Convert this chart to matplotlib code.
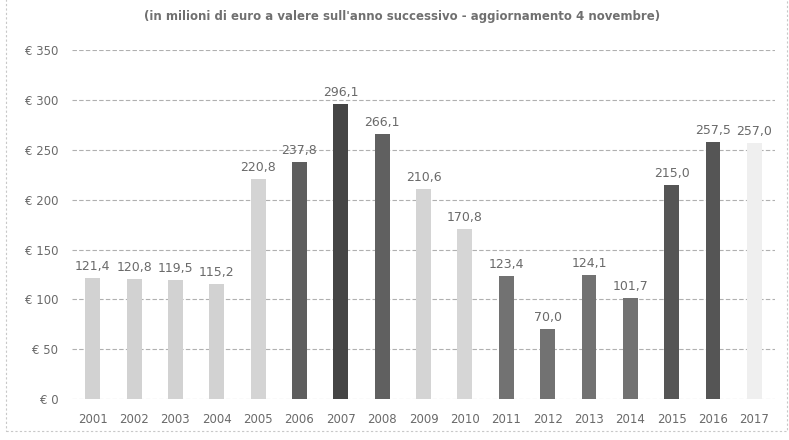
import matplotlib.pyplot as plt
from matplotlib.patches import Rectangle

# values (millions of euro)
years = ['2001', '2002', '2003', '2004', '2005', '2006', '2007', '2008', '2009',
         '2010', '2011', '2012', '2013', '2014', '2015', '2016', '2017']
values = [121.4, 120.8, 119.5, 115.2, 220.8, 237.8, 296.1, 266.1, 210.6,
          170.8, 123.4, 70.0, 124.1, 101.7, 215.0, 257.5, 257.0]
bar_colors = ['#d2d2d2', '#d2d2d2', '#d2d2d2', '#d2d2d2', '#d4d4d4',
              '#5e5e5e', '#454545', '#606060', '#d4d4d4', '#d6d6d6',
              '#727272', '#727272', '#727272', '#727272',
              '#555555', '#555555', '#efefef']
yticks = [0, 50, 100, 150, 200, 250, 300, 350]

fig = plt.figure(figsize=(7.89, 4.40), dpi=100)
ax = fig.add_axes([0.0913, 0.093, 0.891, 0.793])

x = range(len(years))
bars = ax.bar(x, values, width=0.36, color=bar_colors, zorder=3)

for xi, v in zip(x, values):
    ax.text(xi, v + 5, f'{v:.1f}'.replace('.', ','), ha='center', va='bottom',
            fontsize=9, color='#6a6a6a')

ax.set_xlim(-0.5, len(years) - 0.5)
ax.set_ylim(0, 350)
ax.set_xticks(list(x))
ax.set_xticklabels(years, fontsize=8.5, color='#6a6a6a')
ax.set_yticks(yticks)
ax.set_yticklabels([f'€ {t}' for t in yticks], fontsize=8.5, color='#6a6a6a')
ax.tick_params(length=0, pad=10)
ax.grid(axis='y', color='#b0b0b0', linestyle=(0, (4, 2)), linewidth=0.8, zorder=0)
for s in ax.spines.values():
    s.set_visible(False)

fig.text(0.51, 0.962,
         "(in milioni di euro a valere sull'anno successivo - aggiornamento 4 novembre)",
         ha='center', va='center', fontsize=8.5, color='#707070', fontweight='bold')

# scanned page border
fig.patches.append(Rectangle((0.007, 0.02), 0.99, 1.2, transform=fig.transFigure,
                             fill=False, edgecolor='#c8c8c8', linewidth=0.8,
                             linestyle=(0, (2, 2))))

fig.savefig('out.png', dpi=100)
